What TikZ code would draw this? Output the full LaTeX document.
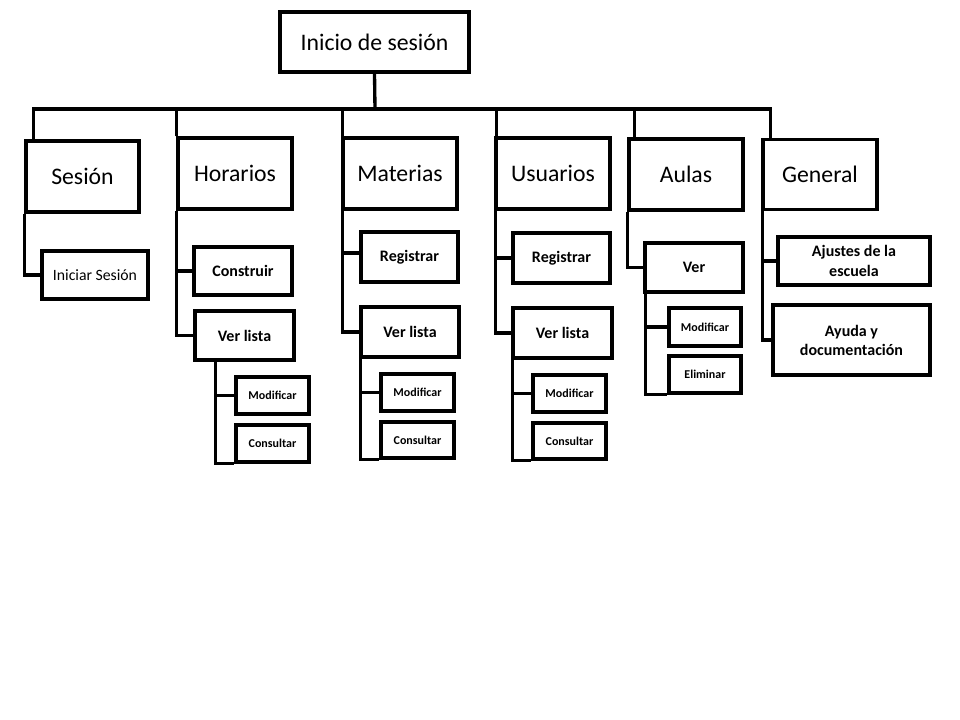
\documentclass[tikz,border=0pt]{standalone}
\usepackage{fontspec}
\setmainfont{Carlito}
\usetikzlibrary{calc}
\begin{document}
\begin{tikzpicture}[x=0.75pt,y=-0.75pt,
  line width=2.5pt, line join=miter,
  bx/.style={draw=black, line width=2.5pt, inner sep=0pt, align=center},
  big/.style={bx, font=\fontsize{17.8}{21}\selectfont},
  mid/.style={bx, font=\fontsize{12}{14}\selectfont\bfseries},
  midr/.style={bx, font=\fontsize{11.8}{14}\selectfont},
  sml/.style={bx, font=\fontsize{9}{11}\selectfont\bfseries},
  conn/.style={draw=black, line width=2.5pt}]
\useasboundingbox (0,0) rectangle (960,720);
% top
\node[big, minimum width=189*0.75pt, minimum height=60*0.75pt] (top) at (374.5,42) {Inicio de sesión};
% categories
\node[big, minimum width=113*0.75pt, minimum height=71*0.75pt] (sesion) at (82.5,176.5) {Sesión};
\node[big, minimum width=114*0.75pt, minimum height=71*0.75pt] (horarios) at (235,173.5) {Horarios};
\node[big, minimum width=114*0.75pt, minimum height=71*0.75pt] (materias) at (400,173.5) {Materias};
\node[big, minimum width=114*0.75pt, minimum height=71*0.75pt] (usuarios) at (553,173.5) {Usuarios};
\node[big, minimum width=114*0.75pt, minimum height=71*0.75pt] (aulas) at (686,174.5) {Aulas};
\node[big, minimum width=114*0.75pt, minimum height=70*0.75pt] (general) at (820,174.5) {General};
% sesion
\node[midr, minimum width=106*0.75pt, minimum height=48*0.75pt] (iniciar) at (95,275) {Iniciar Sesión};
% horarios
\node[mid, minimum width=98*0.75pt, minimum height=48*0.75pt] (hcons) at (243,271) {Construir};
\node[mid, minimum width=99*0.75pt, minimum height=49*0.75pt] (hver) at (244.5,335.5) {Ver lista};
\node[sml, minimum width=73*0.75pt, minimum height=37*0.75pt] (hmod) at (272.5,395.5) {Modificar};
\node[sml, minimum width=73*0.75pt, minimum height=37*0.75pt] (hcon) at (272.5,443.5) {Consultar};
% materias
\node[mid, minimum width=97*0.75pt, minimum height=50*0.75pt] (mreg) at (409.5,257) {Registrar};
\node[mid, minimum width=98*0.75pt, minimum height=50*0.75pt] (mver) at (410,332) {Ver lista};
\node[sml, minimum width=73*0.75pt, minimum height=37*0.75pt] (mmod) at (417.5,392.5) {Modificar};
\node[sml, minimum width=73*0.75pt, minimum height=36*0.75pt] (mcon) at (417.5,440) {Consultar};
% usuarios
\node[mid, minimum width=97*0.75pt, minimum height=50*0.75pt] (ureg) at (561.5,258) {Registrar};
\node[mid, minimum width=99*0.75pt, minimum height=50*0.75pt] (uver) at (562.5,333) {Ver lista};
\node[sml, minimum width=73*0.75pt, minimum height=37*0.75pt] (umod) at (569.5,393.5) {Modificar};
\node[sml, minimum width=73*0.75pt, minimum height=36*0.75pt] (ucon) at (569.5,441) {Consultar};
% aulas
\node[mid, minimum width=98*0.75pt, minimum height=49*0.75pt] (aver) at (694,267.5) {Ver};
\node[sml, minimum width=72*0.75pt, minimum height=38*0.75pt] (amod) at (705,327) {Modificar};
\node[sml, minimum width=72*0.75pt, minimum height=37*0.75pt] (aeli) at (705,374.5) {Eliminar};
% general
\node[mid, minimum width=152*0.75pt, minimum height=48*0.75pt, font=\fontsize{12}{14.5}\selectfont\bfseries] (gaj) at (854,261) {Ajustes de la\\escuela};
\node[mid, minimum width=157*0.75pt, minimum height=70*0.75pt, font=\fontsize{12}{14.2}\selectfont\bfseries] (gay) at (851.5,340) {Ayuda y\\documentación};
% bar
\coordinate (bar) at (375,109);
\draw[conn] (top.south) -- (bar);
\draw[conn] ($(sesion.north west)+(9,0)$) |- (bar);
\draw[conn] (horarios.north west) |- (bar);
\draw[conn] ($(materias.north west)+(1,0)$) |- (bar);
\draw[conn] ($(usuarios.north west)+(2,0)$) |- (bar);
\draw[conn] ($(aulas.north west)+(7,0)$) |- (bar);
\draw[conn] ($(general.north west)+(9,0)$) |- (bar);
% children
\draw[conn] (sesion.south west) |- (iniciar.west);
\draw[conn] (horarios.south west) |- (hcons.west);
\draw[conn] (horarios.south west) |- (hver.west);
\draw[conn] ($(hver.south west)+(22,0)$) |- (hmod.west);
\draw[conn] ($(hver.south west)+(22,0)$) |- (hcon.south west);
\draw[conn] ($(materias.south west)+(1,0)$) |- ($(mreg.west)+(0,-4)$);
\draw[conn] ($(materias.south west)+(1,0)$) |- (mver.west);
\draw[conn] ($(mver.south west)+(1,0)$) |- (mmod.west);
\draw[conn] ($(mver.south west)+(1,0)$) |- (mcon.south west);
\draw[conn] ($(usuarios.south west)+(1,0)$) |- (ureg.west);
\draw[conn] ($(usuarios.south west)+(1,0)$) |- (uver.west);
\draw[conn] ($(uver.south west)+(1,0)$) |- (umod.west);
\draw[conn] ($(uver.south west)+(1,0)$) |- (ucon.south west);
\draw[conn] (aulas.south west) |- (aver.west);
\draw[conn] ($(aver.south west)+(2,0)$) |- (amod.west);
\draw[conn] ($(aver.south west)+(2,0)$) |- (aeli.south west);
\draw[conn] ($(general.south west)+(1,0)$) |- (gaj.west);
\draw[conn] ($(general.south west)+(1,0)$) |- (gay.west);
\end{tikzpicture}
\end{document}
